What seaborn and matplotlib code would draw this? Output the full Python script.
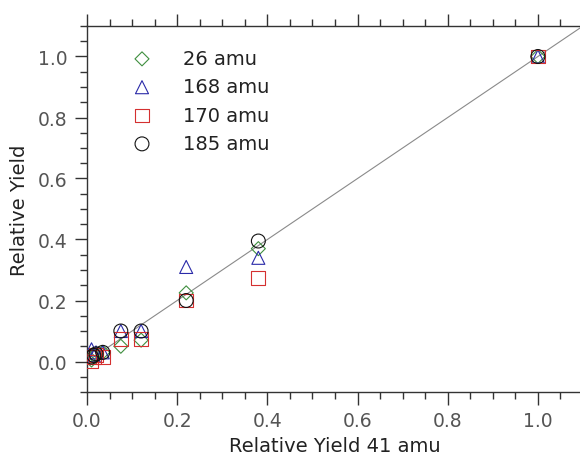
import matplotlib
matplotlib.use("Agg")
import matplotlib.pyplot as plt
import seaborn as sns
import numpy as np
import pandas as pd
from matplotlib.ticker import MultipleLocator, FormatStrFormatter

# Data
x_41 = [0.01, 0.015, 0.02, 0.035, 0.075, 0.12, 0.22, 0.38, 1.0]
y_26 = [0.005, 0.02, 0.025, 0.03, 0.05, 0.07, 0.225, 0.37, 1.0]
y_168 = [0.04, 0.02, 0.03, 0.03, 0.10, 0.10, 0.31, 0.34, 1.0]
y_170 = [0.0, 0.015, 0.02, 0.015, 0.075, 0.075, 0.20, 0.275, 1.0]
y_185 = [0.015, 0.02, 0.025, 0.03, 0.10, 0.10, 0.20, 0.395, 1.0]
labels = ["26 amu", "168 amu", "170 amu", "185 amu"]
fit_x = [0.0, 1.2]
fit_y = [0.0, 1.2]

sns.set_style("ticks")
plt.rcParams['font.family'] = ['DejaVu Sans']

fig = plt.figure(figsize=(5.8, 4.64), dpi=100)
ax = fig.add_axes([87/580, 1-393/464, 496/580, 366/464])

sns.lineplot(x=fit_x, y=fit_y, ax=ax, color="#8a8a8a", linewidth=0.8, zorder=1)

series = [y_26, y_168, y_170, y_185]
colors = ["#3f8f3f", "#2a2aa8", "#d43030", "#111111"]
markers = ["D", "^", "s", "o"]
sizes = [51, 88, 100, 100]
for ys, lab, c, m, s in zip(series, labels, colors, markers, sizes):
    sns.scatterplot(x=x_41, y=ys, ax=ax, marker=m, s=s, facecolor="none",
                    edgecolor=c, linewidth=0.8, label=lab, zorder=3)

ax.set_xlim(0, 1.1)
ax.set_ylim(-0.1, 1.1)
ax.xaxis.set_major_locator(MultipleLocator(0.2))
ax.xaxis.set_minor_locator(MultipleLocator(0.05))
ax.yaxis.set_major_locator(MultipleLocator(0.2))
ax.yaxis.set_minor_locator(MultipleLocator(0.05))
ax.xaxis.set_major_formatter(FormatStrFormatter('%.1f'))
ax.yaxis.set_major_formatter(FormatStrFormatter('%.1f'))

ax.tick_params(which="major", direction="out", length=9, width=1, color="#333333",
               labelsize=13.5, labelcolor="#555555", top=True, pad=5)
ax.tick_params(which="minor", direction="out", length=5, width=1, color="#333333", top=True)
for sp in ax.spines.values():
    sp.set_visible(True)
    sp.set_color("#333333")
    sp.set_linewidth(1)

ax.set_xlabel("Relative Yield 41 amu", fontsize=14, color="#222222", labelpad=4)
ax.set_ylabel("Relative Yield", fontsize=14, color="#222222", labelpad=6)

leg = ax.legend(loc="upper left", frameon=False, fontsize=14, bbox_to_anchor=(0.056, 0.9585),
                handlelength=2.0, handletextpad=1.1, labelspacing=0.48,
                borderpad=0.4, borderaxespad=0)
for t in leg.get_texts():
    t.set_color("#222222")

fig.savefig("out.png", dpi=100)
